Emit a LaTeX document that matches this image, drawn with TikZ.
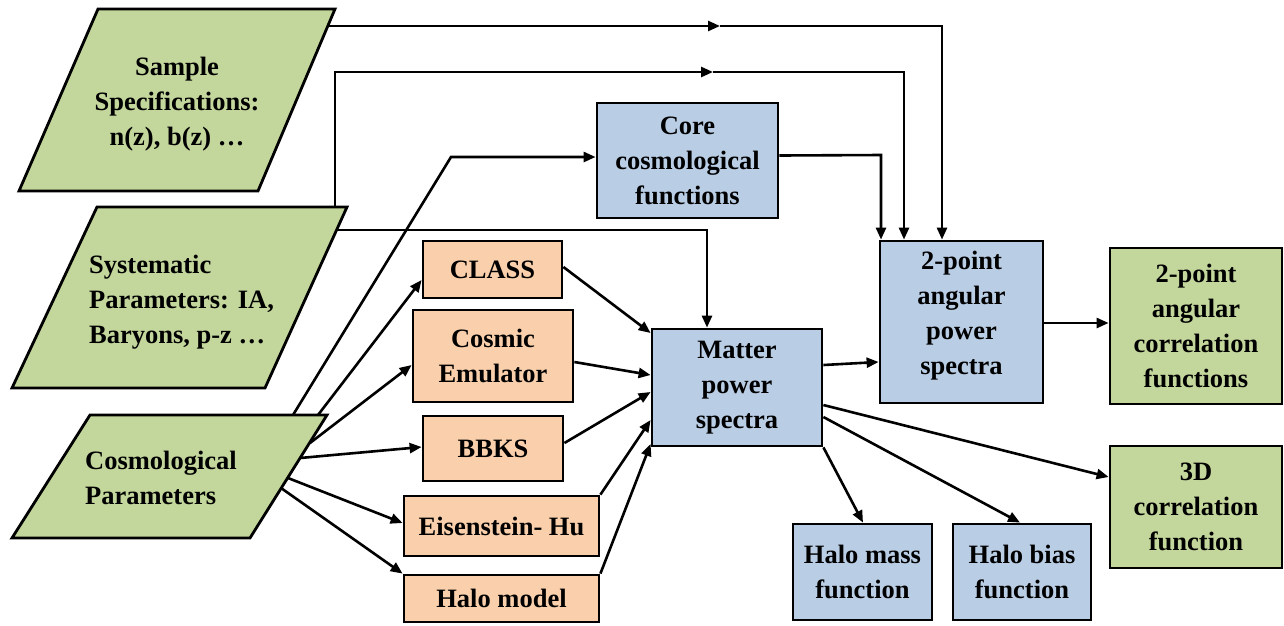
\documentclass[tikz,border=0pt]{standalone}
\usepackage{fontspec}
\setmainfont{Liberation Serif}
\usetikzlibrary{arrows.meta,calc}
\definecolor{cGreen}{HTML}{C3D69B}
\definecolor{cBlue}{HTML}{B9CDE5}
\definecolor{cOrange}{HTML}{FAD0AC}
\tikzset{
  txt/.style={font=\fontsize{26.5}{35}\selectfont\bfseries, inner sep=0pt},
  box/.style={txt, draw, line width=2.8pt, align=center},
  bluebox/.style={box, fill=cBlue},
  greenbox/.style={box, fill=cGreen},
  orangebox/.style={box, fill=cOrange},
  para/.style={draw, line width=2.8pt, fill=cGreen, line join=miter},
  conn/.style={line width=2.6pt, -{Triangle[length=12pt,width=10pt]}}
}
\begin{document}
\begin{tikzpicture}[x=1pt,y=-1pt]
\useasboundingbox (0,0) rectangle (1284,625);
% parallelograms
\path[para] (98,9) -- (335,9) -- (258,191) -- (19,191) -- cycle;
\path[para] (97,207) -- (347,207) -- (265,388) -- (12,388) -- cycle;
\path[para] (90,415) -- (327,415) -- (250,538) -- (12,538) -- cycle;
\node[txt, align=center] (sample) at (177,104) {Sample\\Specifications:\\n(z), b(z) …};
\node[txt, align=left, anchor=west] (syst) at (89,302) {Systematic\\Parameters: IA,\\Baryons, p-z …};
\node[txt, align=left, anchor=west] (cosmo) at (85,478) {Cosmological\\Parameters};
% boxes
\node[bluebox, minimum width=181pt, minimum height=115pt] (core) at (687.5,160.5) {Core\\cosmological\\functions};
\node[orangebox, minimum width=139pt, minimum height=57pt] (cls) at (492.5,269.5) {CLASS};
\node[orangebox, minimum width=160pt, minimum height=92pt] (emu) at (493,356) {Cosmic\\Emulator};
\node[orangebox, minimum width=140pt, minimum height=65pt] (bbks) at (493,448.5) {BBKS};
\node[orangebox, minimum width=195pt, minimum height=60pt] (eh) at (501.5,526) {Eisenstein- Hu};
\node[orangebox, minimum width=195pt, minimum height=47pt] (halo) at (501.5,598.5) {Halo model};
\node[bluebox, minimum width=170pt, minimum height=117pt] (matter) at (737,387.5) {Matter\\power\\spectra};
\node[bluebox, minimum width=163pt, minimum height=162pt] (aps) at (961.5,322) {2-point\\angular\\power\\spectra\\[-16pt]\mbox{}};
\node[greenbox, minimum width=172pt, minimum height=156pt] (acf) at (1196,326) {2-point\\angular\\correlation\\functions};
\node[greenbox, minimum width=172pt, minimum height=122pt] (cf3d) at (1196,507) {3D\\correlation\\function};
\node[bluebox, minimum width=139pt, minimum height=96pt] (hmf) at (862.5,572) {Halo mass\\function};
\node[bluebox, minimum width=138pt, minimum height=96pt] (hbf) at (1022,572) {Halo bias\\function};
% connector points on parallelogram edges
\coordinate (sOut) at (328,26);
\coordinate (sMid) at (720,26);
\coordinate (yTop) at (335,207);
\coordinate (yMid) at (713,72);
\coordinate (yOut) at (337,230);
\coordinate (cTop) at (293,415);
\coordinate (cCls) at (318,415);
\coordinate (cEmu) at (310,443);
\coordinate (cBbks) at (300,458);
\coordinate (cEh) at (288,478);
\coordinate (cHalo) at (281,488);
% top routes
\draw[conn] (sOut) -- (sMid);
\draw[conn] (sMid) -- (942,26) -- (aps.north -| 942,0);
\draw[conn] (yTop) -- (335,72) -- (yMid);
\draw[conn] (yMid) -- (904,72) -- (aps.north -| 904,0);
\draw[conn] (yOut) -- (707,230) -- (matter.north -| 707,0);
\draw[conn] ($(core.east)+(0,-5)$) -- (881,155) -- (aps.north -| 881,0);
\draw[conn] (cTop) -- (451,157) -- (core.west |- 0,157);
% cosmological fan-out
\draw[conn] (cCls) -- (cls.west |- 0,280);
\draw[conn] (cEmu) -- (emu.west |- 0,365);
\draw[conn] (cBbks) -- (bbks.west |- 0,447);
\draw[conn] (cEh) -- (eh.west |- 0,523);
\draw[conn] (cHalo) -- (halo.north west);
% into matter
\draw[conn] (cls.east |- 0,267) -- (matter.west |- 0,333);
\draw[conn] (emu.east |- 0,362) -- (matter.west |- 0,375);
\draw[conn] (bbks.east |- 0,443) -- (matter.west |- 0,392);
\draw[conn] (eh.north east) -- (matter.west |- 0,420);
\draw[conn] (halo.north east) -- (matter.west |- 0,444);
% out of matter
\draw[conn] (matter.east |- 0,365) -- (aps.west |- 0,362);
\draw[conn] (aps.east |- 0,323) -- (acf.west |- 0,323);
\draw[conn] (matter.east |- 0,405) -- (cf3d.west |- 0,477);
\draw[conn] (matter.east |- 0,417) -- (hbf.north -| 1020,0);
\draw[conn] (matter.south east) -- (hmf.north -| 863,0);
\end{tikzpicture}
\end{document}
